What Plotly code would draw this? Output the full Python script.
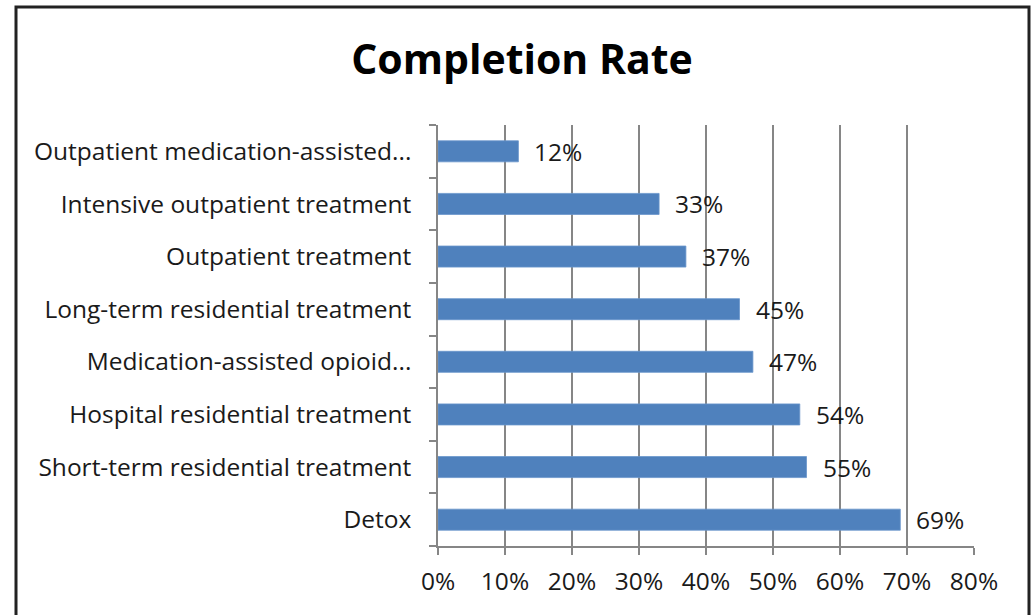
import plotly.graph_objects as go

categories = [
    "Detox",
    "Short-term residential treatment",
    "Hospital residential treatment",
    "Medication-assisted opioid...",
    "Long-term residential treatment",
    "Outpatient treatment",
    "Intensive outpatient treatment",
    "Outpatient medication-assisted...",
]
values = [0.69, 0.55, 0.54, 0.47, 0.45, 0.37, 0.33, 0.12]
x_ticks = [0, 0.1, 0.2, 0.3, 0.4, 0.5, 0.6, 0.7, 0.8]
x_tick_labels = ["0%", "10%", "20%", "30%", "40%", "50%", "60%", "70%", "80%"]

FONT = "Open Sans, sans-serif"
GRID = "#868686"
FS = 24.5

fig = go.Figure(
    go.Bar(
        x=values,
        y=categories,
        orientation="h",
        marker=dict(color="#4F81BD", line=dict(color="#6A96CB", width=0.8)),
        hoverinfo="skip",
    )
)

for v, c in zip(values, categories):
    fig.add_annotation(
        x=v, y=c, text=f"{round(v*100)}%", showarrow=False,
        xanchor="left", xshift=14, yshift=0,
        font=dict(family=FONT, size=FS, color="#1a1a1a"),
    )

W, H = 1036, 615
L, R, T, B = 438, 974, 125, 546
fig.update_layout(
    width=W, height=H,
    margin=dict(l=L, r=W - R, t=T, b=H - B, pad=0),
    paper_bgcolor="white", plot_bgcolor="white",
    bargap=0.6,
    showlegend=False,
    title=dict(
        text="<b>Completion Rate</b>",
        x=(522) / W, xanchor="center",
        y=1 - 60 / H, yanchor="middle",
        font=dict(family=FONT, size=41, color="black"),
    ),
    font=dict(family=FONT, size=FS, color="#1a1a1a"),
    xaxis=dict(
        range=[0, 0.8], tickvals=x_ticks, ticktext=x_tick_labels,
        showgrid=True, gridcolor=GRID, gridwidth=1.5,
        showline=True, linecolor=GRID, linewidth=1.5,
        ticks="outside", ticklen=7, tickcolor=GRID, tickwidth=1.5,
        ticklabelstandoff=6,
        zeroline=False, fixedrange=True,
        tickfont=dict(family=FONT, size=FS, color="#1a1a1a"),
    ),
    yaxis=dict(
        showgrid=False,
        showline=True, linecolor=GRID, linewidth=1.5,
        ticks="outside", ticklen=7, tickcolor=GRID, tickwidth=1.5,
        tickson="boundaries",
        ticklabelstandoff=20,
        fixedrange=True,
        tickfont=dict(family=FONT, size=FS, color="#1a1a1a"),
    ),
)

pw, ph = R - L, B - T
fig.add_shape(
    type="rect", xref="paper", yref="paper",
    x0=(16 - L) / pw, x1=(1029 - L) / pw,
    y0=(B - 640) / ph, y1=(B - 7) / ph,
    line=dict(color="#222222", width=3), fillcolor="rgba(0,0,0,0)", layer="above",
)

fig.write_html("out.html")
